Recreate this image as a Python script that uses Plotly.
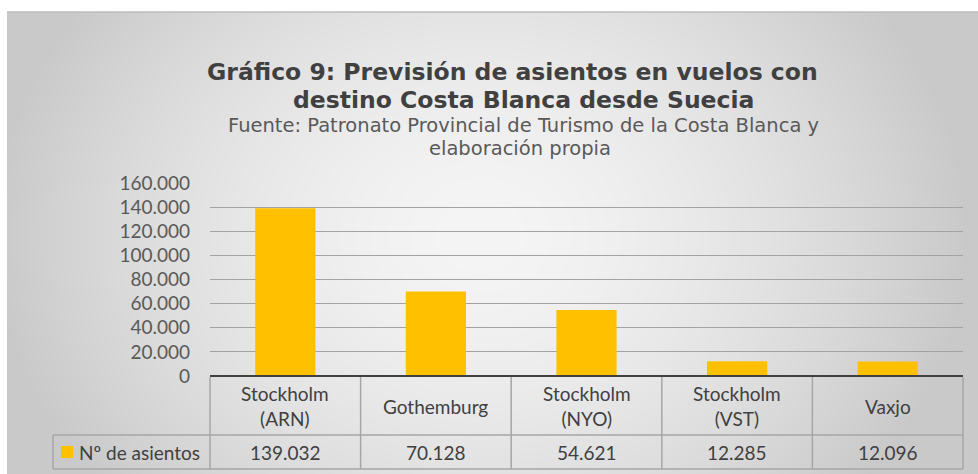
import base64
import struct
import zlib

import numpy as np
import plotly.graph_objects as go

# ---------------- data ----------------
categories = ["Stockholm (ARN)", "Gothemburg", "Stockholm (NYO)", "Stockholm (VST)", "Vaxjo"]
header_labels = ["Stockholm<br>(ARN)", "Gothemburg", "Stockholm<br>(NYO)", "Stockholm<br>(VST)", "Vaxjo"]
seats = [139032, 70128, 54621, 12285, 12096]
series_name = "Nº de asientos"
y_ticks = [0, 20000, 40000, 60000, 80000, 100000, 120000, 140000, 160000]

title_lines = ["Gráfico 9: Previsión de asientos en vuelos con",
               "destino Costa Blanca desde Suecia"]
subtitle_lines = ["Fuente: Patronato Provincial de Turismo de la Costa Blanca y",
                  "elaboración propia"]

# ---------------- layout geometry ----------------
W, H = 978, 474
L, R, T, B = 210, 963, 183, 376


def px_x(p):
    return (p - L) / (R - L)


def px_y(p):
    return (B - p) / (B - T)


def fmt(v):
    return f"{v:,}".replace(",", ".")


# ---------------- background gradient (styling) ----------------
def gradient_png(w, h):
    xs = np.arange(w)[None, :]
    ys = np.arange(h)[:, None]
    cx, cy = 480 - 7, 235 - 12
    r = np.sqrt(((xs - cx) / 490.0) ** 2 + ((ys - cy) / 400.0) ** 2)
    r = np.clip(r, 0, 1)
    img = (245 - 44 * r ** 1.6).astype(np.uint8)
    raw = b"".join(b"\x00" + row.tobytes() for row in img)

    def chunk(t, d):
        return struct.pack(">I", len(d)) + t + d + struct.pack(">I", zlib.crc32(t + d) & 0xFFFFFFFF)

    png = b"\x89PNG\r\n\x1a\n"
    png += chunk(b"IHDR", struct.pack(">IIBBBBB", w, h, 8, 0, 0, 0, 0))
    png += chunk(b"IDAT", zlib.compress(raw, 9))
    png += chunk(b"IEND", b"")
    return "data:image/png;base64," + base64.b64encode(png).decode()


bg_x0, bg_y0, bg_x1, bg_y1 = 7, 12, 978, 474
bg_uri = gradient_png(bg_x1 - bg_x0, bg_y1 - bg_y0)

BAR_COLOR = "#FFC000"
GRID = "#a3a3a3"
TABLE_LINE = "#a6a6a6"
TXT = "#404040"
TICK_TXT = "#595959"
FONT = "Lato"

fig = go.Figure()
fig.add_trace(go.Bar(
    x=categories, y=seats, name=series_name, width=0.4,
    marker=dict(color=BAR_COLOR, line=dict(width=0)),
    hovertemplate="%{x}: %{y:,}<extra></extra>",
))

shapes = []
annotations = []

# top border line of chart area
shapes.append(dict(type="line", xref="paper", yref="paper",
                   x0=px_x(bg_x0), x1=px_x(bg_x1), y0=px_y(bg_y0), y1=px_y(bg_y0),
                   line=dict(color="#bdbdbd", width=1.5), layer="above"))

# data table: top dark line
shapes.append(dict(type="line", xref="paper", yref="paper", x0=0, x1=1, y0=0, y1=0,
                   line=dict(color="#404040", width=2), layer="above"))
# outer vertical lines
for xp in (0, 1):
    shapes.append(dict(type="line", xref="paper", yref="paper", x0=xp, x1=xp,
                       y0=px_y(377), y1=px_y(469), line=dict(color=TABLE_LINE, width=1.5)))
# inner vertical lines at category boundaries
for i in range(1, len(categories)):
    shapes.append(dict(type="line", xref="x", yref="paper", x0=i - 0.5, x1=i - 0.5,
                       y0=px_y(377), y1=px_y(469), line=dict(color=TABLE_LINE, width=1.5)))
# horizontal lines of table (including legend cell)
for yy in (435, 469):
    shapes.append(dict(type="line", xref="paper", yref="paper", x0=px_x(53), x1=1,
                       y0=px_y(yy), y1=px_y(yy), line=dict(color=TABLE_LINE, width=1.5)))
shapes.append(dict(type="line", xref="paper", yref="paper", x0=px_x(53), x1=px_x(53),
                   y0=px_y(435), y1=px_y(469), line=dict(color=TABLE_LINE, width=1.5)))
# legend key square
shapes.append(dict(type="rect", xref="paper", yref="paper", x0=px_x(61), x1=px_x(73),
                   y0=px_y(446), y1=px_y(458), fillcolor=BAR_COLOR, line=dict(width=0)))

annotations.append(dict(xref="paper", yref="paper", x=px_x(77), y=px_y(452),
                        text=series_name, showarrow=False, xanchor="left", yanchor="middle",
                        font=dict(family=FONT, size=19, color=TXT)))

for i, (lab, v) in enumerate(zip(header_labels, seats)):
    annotations.append(dict(xref="x", yref="paper", x=i, y=px_y(406), text=lab,
                            showarrow=False, xanchor="center", yanchor="middle",
                            font=dict(family=FONT, size=19, color=TXT)))
    annotations.append(dict(xref="x", yref="paper", x=i, y=px_y(452), text=fmt(v),
                            showarrow=False, xanchor="center", yanchor="middle",
                            font=dict(family=FONT, size=19, color=TXT)))

# title & subtitle
title_pos = [(512, 72), (523, 99.5)]
for txt, (xx, yy) in zip(title_lines, title_pos):
    annotations.append(dict(xref="paper", yref="paper", x=px_x(xx), y=px_y(yy),
                            text=f"<b>{txt}</b>", showarrow=False,
                            xanchor="center", yanchor="middle",
                            font=dict(family="DejaVu Sans", size=23.5, color=TXT)))
sub_pos = [(523, 125), (520, 148)]
for txt, (xx, yy) in zip(subtitle_lines, sub_pos):
    annotations.append(dict(xref="paper", yref="paper", x=px_x(xx), y=px_y(yy),
                            text=txt, showarrow=False, xanchor="center", yanchor="middle",
                            font=dict(family="DejaVu Sans", size=19.5, color=TICK_TXT)))

fig.update_layout(
    width=W, height=H,
    margin=dict(l=L, r=W - R, t=T, b=H - B, pad=0),
    paper_bgcolor="white",
    plot_bgcolor="rgba(0,0,0,0)",
    separators=",.",
    showlegend=False,
    bargap=0.6,
    shapes=shapes,
    annotations=annotations,
    images=[dict(source=bg_uri, xref="paper", yref="paper",
                 x=px_x(bg_x0), y=px_y(bg_y0),
                 sizex=px_x(bg_x1) - px_x(bg_x0), sizey=px_y(bg_y0) - px_y(bg_y1),
                 xanchor="left", yanchor="top", sizing="stretch", layer="below")],
    xaxis=dict(showticklabels=False, showgrid=False, zeroline=False, showline=False,
               ticks="", range=[-0.5, len(categories) - 0.5], fixedrange=True),
    yaxis=dict(range=[0, 160000], tickvals=y_ticks, tickformat=",d",
               showgrid=True, gridcolor=GRID, gridwidth=1.2, zeroline=False,
               showline=False, ticks="", ticklabelstandoff=19,
               tickfont=dict(family=FONT, size=19, color=TICK_TXT), fixedrange=True),
)

fig.write_html("out.html",
               config={"displayModeBar": False},
               post_script="document.body.style.margin='0';document.body.style.overflow='hidden';")
